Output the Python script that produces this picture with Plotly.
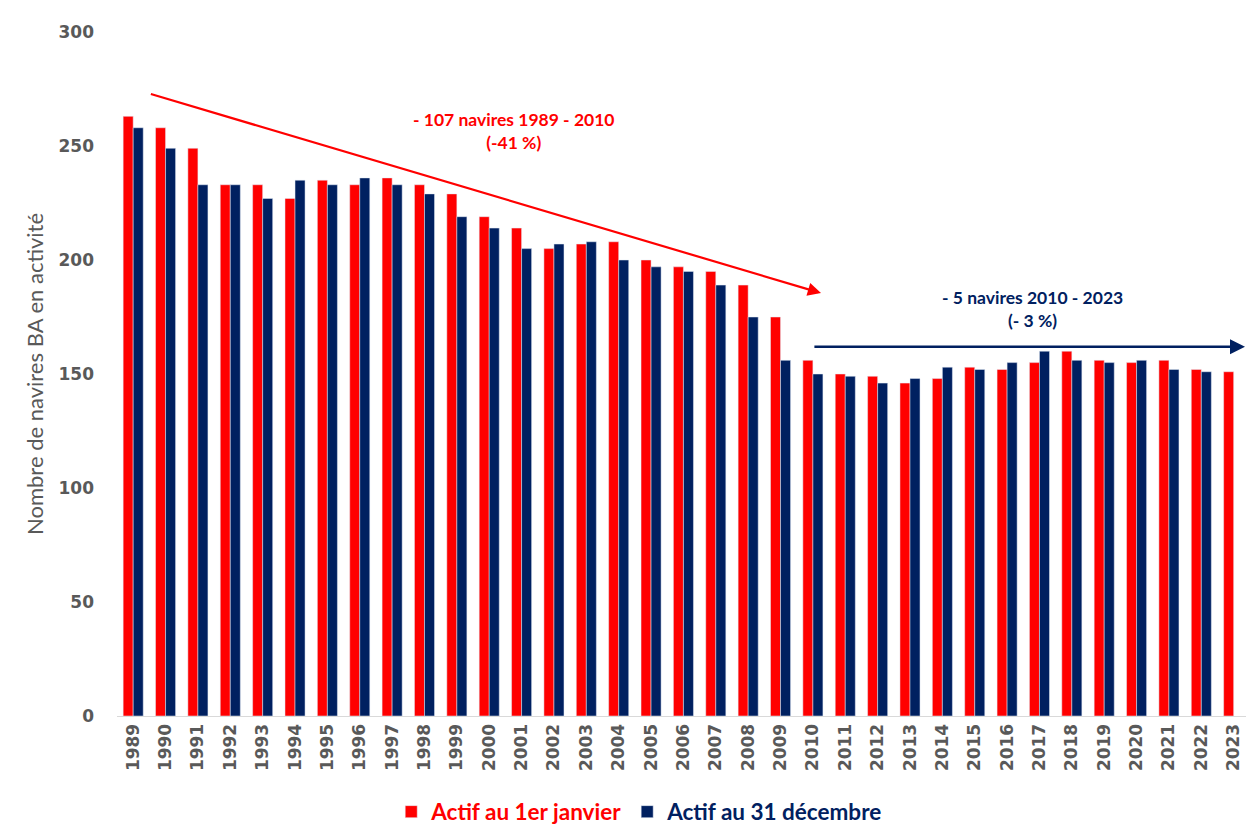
import plotly.graph_objects as go

years = [str(y) for y in range(1989, 2024)]
actif_janvier = [263, 258, 249, 233, 233, 227, 235, 233, 236, 233, 229, 219, 214, 205, 207, 208,
                 200, 197, 195, 189, 175, 156, 150, 149, 146, 148, 153, 152, 155, 160, 156, 155,
                 156, 152, 151]
actif_decembre = [258, 249, 233, 233, 227, 235, 233, 236, 233, 229, 219, 214, 205, 207, 208, 200,
                  197, 195, 189, 175, 156, 150, 149, 146, 148, 153, 152, 155, 160, 156, 155, 156,
                  152, 151, None]
y_ticks = [0, 50, 100, 150, 200, 250, 300]

RED = "#FF0000"
NAVY = "#002060"
GRAY = "#595959"

fig = go.Figure()
fig.add_trace(go.Bar(x=years, y=actif_janvier, name="<span style='color:#FF0000'>Actif au 1er janvier</span>",
                     marker=dict(color=RED)))
fig.add_trace(go.Bar(x=years, y=actif_decembre, name="<span style='color:#002060'>Actif au 31 décembre</span>",
                     marker=dict(color=NAVY)))

# trend arrows (data coordinates: category index, value)
fig.add_annotation(x=21.25, y=185.5, ax=0.5, ay=273, xref="x", yref="y", axref="x", ayref="y",
                   showarrow=True, arrowhead=2, arrowsize=1.2, arrowwidth=2.2, arrowcolor=RED, text="")
fig.add_annotation(x=34.35, y=162, ax=21.0, ay=162, xref="x", yref="y", axref="x", ayref="y",
                   showarrow=True, arrowhead=2, arrowsize=1.2, arrowwidth=2.5, arrowcolor=NAVY, text="")

fig.add_annotation(x=11.75, y=256.5, xref="x", yref="y", showarrow=False,
                   text="<b>- 107 navires 1989 - 2010<br>(-41 %)</b>",
                   font=dict(family="Lato", size=17.5, color=RED), align="center")
fig.add_annotation(x=27.8, y=178.5, xref="x", yref="y", showarrow=False,
                   text="<b>- 5 navires 2010 - 2023<br>(- 3 %)</b>",
                   font=dict(family="Lato", size=17.5, color=NAVY), align="center")

fig.update_layout(
    width=1246, height=816,
    margin=dict(l=109, r=0, t=24, b=108, autoexpand=False),
    plot_bgcolor="white", paper_bgcolor="white",
    barmode="group", bargap=0.38, bargroupgap=0,
    showlegend=True,
    legend=dict(orientation="h", xref="container", x=0.507, xanchor="center",
                yref="container", y=0.0147, yanchor="middle",
                font=dict(family="Lato", size=22.5, color=GRAY, weight="bold"),
                traceorder="normal"),
    xaxis=dict(type="category", tickangle=-90, showgrid=False, showline=True, automargin=False,
               linecolor="#D9D9D9", linewidth=1, ticks="",
               tickfont=dict(family="DejaVu Sans", size=17, color=GRAY, weight="bold")),
    yaxis=dict(range=[0, 300], tickvals=y_ticks, showgrid=False, zeroline=False, showline=False,
               ticks="", ticklabelstandoff=22, automargin=False,
               tickfont=dict(family="DejaVu Sans", size=17, color=GRAY, weight="bold")),
)
fig.update_yaxes(title=dict(text="Nombre de navires BA en activité", standoff=8,
                            font=dict(family="Lato", size=22, color=GRAY)))

fig.write_html("out.html")
